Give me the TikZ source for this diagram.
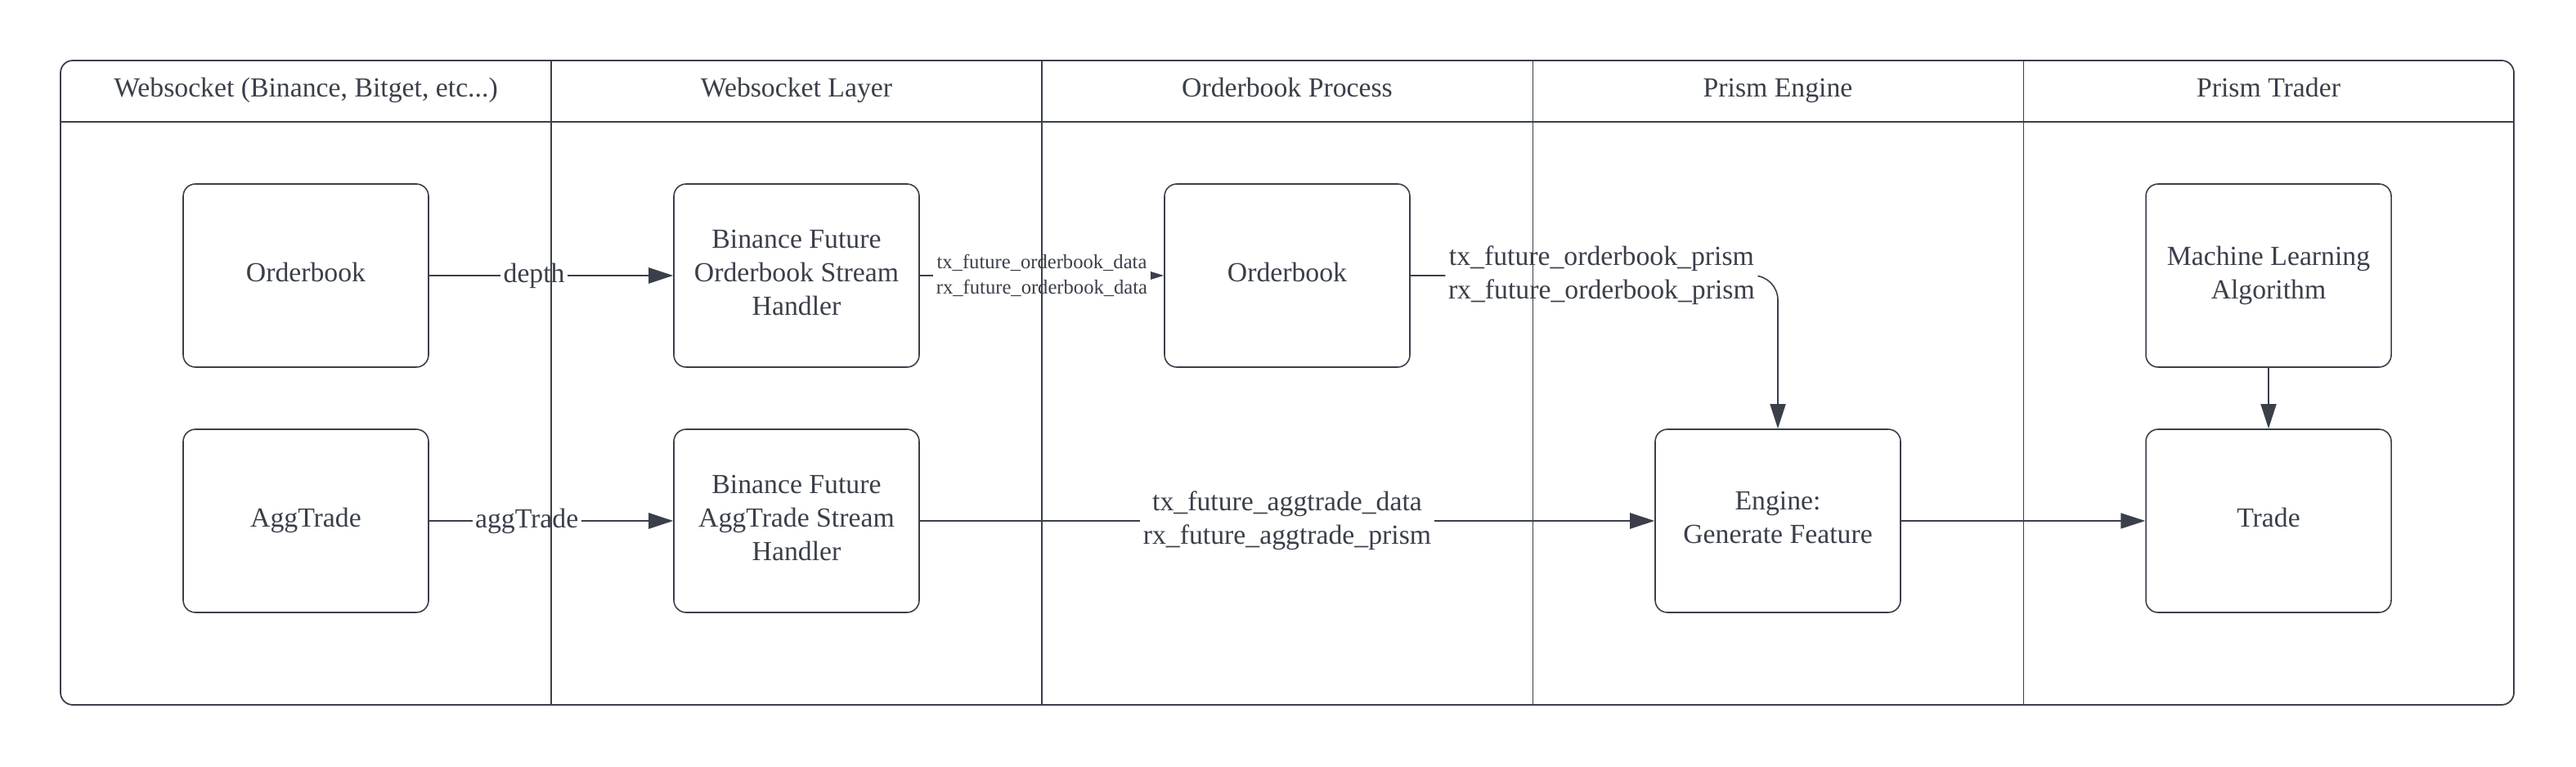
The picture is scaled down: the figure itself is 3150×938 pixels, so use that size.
\documentclass[tikz,border=0pt]{standalone}
\usepackage{fontspec}
\setmainfont{Liberation Serif}
\usepackage{tikz}
\usetikzlibrary{arrows.meta}
\definecolor{ink}{HTML}{3A3F4A}

\begin{document}
\begin{tikzpicture}[x=0.1mm, y=-0.1mm, color=ink, font=\fontsize{9.6}{11.6}\selectfont,
            box/.style={draw, rounded corners=1.5mm, line width=0.45pt, minimum width=30mm, minimum height=22.4mm, align=center, text depth=0.22em},
            conn/.style={line width=0.45pt, -{Triangle[length=3mm,width=1.9mm]}},
            bold/.style={line width=0.7pt},
            lbl/.style={fill=white, inner sep=1pt, align=center},
            smalllbl/.style={lbl, font=\fontsize{7}{8.6}\selectfont}]
            \useasboundingbox (0,0) rectangle (3150,938);
            \draw[line width=0.5pt, rounded corners=1.5mm] (74,74) rectangle (3074,862);
            \draw[line width=0.5pt] (74,149) -- (3074,149);
            \foreach \x/\t in {374/{Websocket (Binance, Bitget, etc...)}, 974/{Websocket Layer}, 1574/{Orderbook Process}, 2174/{Prism Engine}, 2774/{Prism Trader}}
                \node[text height=0.7em, text depth=0.25em] (head\x) at (\x,111) {\t};
            \node[box] (ob) at (374,337) {Orderbook};
            \node[box] (agg) at (374,637) {AggTrade};
            \node[box] (bfob) at (974,337) {Binance Future\\Orderbook Stream\\Handler};
            \node[box] (bfagg) at (974,637) {Binance Future\\AggTrade Stream\\Handler};
            \node[box] (book) at (1574,337) {Orderbook};
            \node[box] (engine) at (2174,637) {Engine:\\Generate Feature};
            \node[box] (ml) at (2774,337) {Machine Learning\\Algorithm};
            \node[box] (trade) at (2774,637) {Trade};
            \draw[conn, bold] (ob) -- node[lbl, pos=0.43] {depth} (bfob);
            \draw[conn, bold] (agg) -- node[lbl, pos=0.4] {aggTrade} (bfagg);
            \draw[conn, -{Triangle[length=1.7mm,width=1mm]}] (bfob) -- node[smalllbl] {tx\_future\_orderbook\_data\\rx\_future\_orderbook\_data} (book);
            \draw[conn, rounded corners=3mm] (book) -| node[lbl, pos=0.26] {tx\_future\_orderbook\_prism\\rx\_future\_orderbook\_prism} (engine);
            \draw[conn, line width=0.8pt] (bfagg) -- node[lbl] {tx\_future\_aggtrade\_data\\rx\_future\_aggtrade\_prism} (engine);
            \draw[conn] (engine) -- (trade);
            \draw[conn] (ml) -- (trade);
            \foreach \x in {674,1274,1874,2474}
                \draw[line width=0.3pt] (\x,74) -- (\x,862);
        \end{tikzpicture}
\end{document}
